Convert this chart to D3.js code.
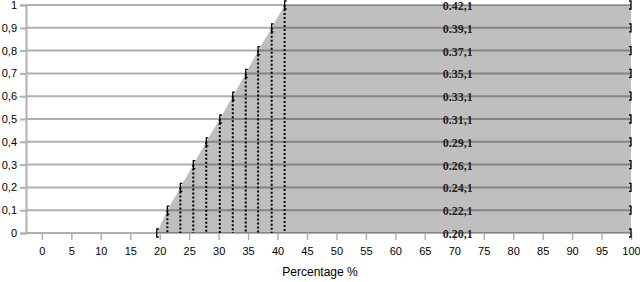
<!doctype html>
<html>
  <head>
    <meta charset="utf-8">
    <title>Percentage chart</title>
    <style>
      body { margin: 0; background: #fff; }
      .tick text { font-family: "Liberation Sans", Arial, sans-serif; font-size: 11px; fill: #000; }
    </style>
    <script src="https://cdnjs.cloudflare.com/ajax/libs/d3/7.8.5/d3.min.js"></script>
  </head>
  <body>
    <div id="chart"></div>
    <script>
      // Daten: x-Wert (Prozent) je Stufe, y-Stufe, Beschriftungen
      const xValues = [19.5, 21.3, 23.5, 25.7, 27.9, 30.2, 32.4, 34.6, 36.7, 39.0, 41.2];
      const yValues = [0, 0.1, 0.2, 0.3, 0.4, 0.5, 0.6, 0.7, 0.8, 0.9, 1];
      const labels = ["0.20,1", "0.22,1", "0.24,1", "0.26,1", "0.29,1", "0.31,1",
                      "0.33,1", "0.35,1", "0.37,1", "0.39,1", "0.42,1"];
      const xMax = 100;
      const xTicks = d3.range(0, 101, 5);
      const yTicks = d3.range(0, 11).map(d => d / 10);

      const data = xValues.map((x, i) => ({ x: x, y: yValues[i], label: labels[i] }));

      const svg = d3.select('#chart').append('svg')
        .attr('width', 640)
        .attr('height', 282);

      const x = d3.scaleLinear().domain([-2.7, xMax]).range([26, 631]);
      const y = d3.scaleLinear().domain([0, 1]).range([233, 5]);

      // Gitterlinien
      svg.append('g').selectAll('line')
        .data(yTicks)
        .join('line')
        .attr('x1', x.range()[0])
        .attr('x2', x.range()[1])
        .attr('y1', d => y(d))
        .attr('y2', d => y(d))
        .attr('stroke', '#b0b0b0')
        .attr('stroke-width', 2);

      // y-Achse
      const yAxis = svg.append('g')
        .attr('transform', `translate(${x.range()[0]},0)`)
        .call(d3.axisLeft(y).tickValues(yTicks).tickSize(6).tickPadding(3)
          .tickFormat(d => d3.format('~g')(d).replace('.', ',')));
      yAxis.select('.domain').attr('stroke', '#b0b0b0').attr('stroke-width', 2);
      yAxis.selectAll('.tick line').attr('stroke', '#b0b0b0').attr('stroke-width', 2);

      // x-Achse
      const xAxis = svg.append('g')
        .attr('transform', `translate(0,${y(0)})`)
        .call(d3.axisBottom(x).tickValues(xTicks).tickSize(7).tickPadding(7));
      xAxis.select('.domain').remove();
      xAxis.selectAll('.tick line').attr('stroke', '#b0b0b0').attr('stroke-width', 1.5);

      // graue Fläche
      const areaPts = data.map(d => [x(d.x), y(d.y)])
        .concat([[x(xMax), y(1)], [x(xMax), y(0)]]);
      svg.append('path')
        .attr('d', d3.line()(areaPts) + 'Z')
        .attr('fill', '#000')
        .attr('fill-opacity', 0.25);

      // gepunktete Linien runter zur Achse
      svg.append('g').selectAll('line')
        .data(data.filter(d => d.y > 0))
        .join('line')
        .attr('x1', d => x(d.x))
        .attr('x2', d => x(d.x))
        .attr('y1', d => y(d.y))
        .attr('y2', y(0))
        .attr('stroke', '#000')
        .attr('stroke-width', 2)
        .attr('stroke-dasharray', '2,2');

      // Klammern links "[" und rechts "]"
      const bh = 4, bw = 2;
      svg.append('g').selectAll('path')
        .data(data)
        .join('path')
        .attr('d', d => {
          const cx = x(d.x), cy = y(d.y);
          return `M${cx + bw},${cy - bh}H${cx}V${cy + bh}H${cx + bw}`;
        })
        .attr('fill', 'none')
        .attr('stroke', '#000')
        .attr('stroke-width', 1.3);
      svg.append('g').selectAll('path')
        .data(data)
        .join('path')
        .attr('d', d => {
          const cx = x(xMax), cy = y(d.y);
          return `M${cx - bw},${cy - bh}H${cx}V${cy + bh}H${cx - bw}`;
        })
        .attr('fill', 'none')
        .attr('stroke', '#000')
        .attr('stroke-width', 1.3);

      // Beschriftungen in der Mitte der Fläche
      const labelX = (xValues[xValues.length - 1] + xMax) / 2;
      svg.append('g').selectAll('text')
        .data(data)
        .join('text')
        .attr('x', x(labelX))
        .attr('y', d => y(d.y))
        .attr('dy', '0.42em')
        .attr('text-anchor', 'middle')
        .style('font-family', '"Liberation Serif", "Times New Roman", serif')
        .style('font-weight', 'bold')
        .style('font-size', '12px')
        .style('fill', '#222')
        .text(d => d.label);

      // Achsentitel
      svg.append('text')
        .attr('x', 320)
        .attr('y', 276)
        .attr('text-anchor', 'middle')
        .style('font-family', '"Liberation Sans", Arial, sans-serif')
        .style('font-size', '12px')
        .text('Percentage %');
    </script>
  </body>
</html>
